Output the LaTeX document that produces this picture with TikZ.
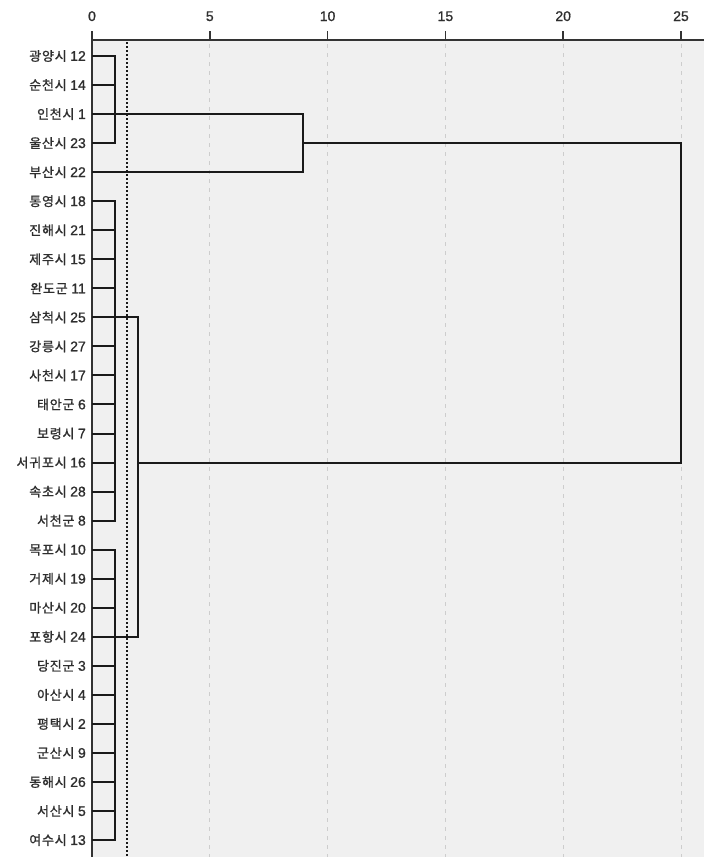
\documentclass[tikz,border=0pt]{standalone}
\usepackage{fontspec}
\setmainfont{Liberation Sans}
\newfontfamily\krfont[FakeBold=1.2,LetterSpace=6]{Noto Sans CJK KR}
\newfontfamily\numfont[FakeBold=1]{Liberation Sans}
\definecolor{panel}{HTML}{F0F0F0}
\definecolor{gridc}{HTML}{CDCDCD}
\definecolor{linec}{HTML}{1A1A1A}
\definecolor{axisc}{HTML}{333333}
\begin{document}
\begin{tikzpicture}[x=1pt,y=-1pt,
  lab/.style={anchor=east,inner sep=0pt,font=\fontsize{13}{14}\selectfont,text=black!82},
  ticklab/.style={anchor=base,inner sep=0pt,font=\numfont\fontsize{14}{15}\selectfont,text=black!82},
  den/.style={draw=linec,line width=2pt,line cap=square,line join=miter},
  gridline/.style={draw=gridc,line width=0.9pt,dash pattern=on 4pt off 5pt},
  cutline/.style={draw=black!90,line width=1.9pt,dash pattern=on 2pt off 2pt},
  axisline/.style={draw=axisc,line width=1.8pt},
  tick/.style={draw=axisc,line width=1.6pt}]
\useasboundingbox (0,0) rectangle (704,857);
\fill[white] (0,0) rectangle (704,857);
\fill[panel] (92,40) rectangle (704,857);
% grid
\foreach \v in {5,10,15,20,25}{
  \pgfmathsetmacro\xx{92+\v*23.56}
  \draw[gridline] (\xx,44) -- (\xx,857);
}
\draw[cutline] (126.7,42) -- (126.7,857);
% axis
\draw[axisline] (92,40) -- (704,40);
\draw[draw=axisc,line width=1.3pt] (92,40) -- (92,857);
\foreach \v in {0,5,10,15,20,25}{
  \pgfmathsetmacro\xx{92+\v*23.56}
  \draw[tick] (\xx,31) -- (\xx,40);
  \node[ticklab] (t\v) at (\xx,21) {\v};
}
% labels and row anchors
\foreach \k/\n [count=\i] in {광양시/12,순천시/14,인천시/1,울산시/23,부산시/22,통영시/18,진해시/21,제주시/15,완도군/11,삼척시/25,강릉시/27,사천시/17,태안군/6,보령시/7,서귀포시/16,속초시/28,서천군/8,목포시/10,거제시/19,마산시/20,포항시/24,당진군/3,아산시/4,평택시/2,군산시/9,동해시/26,서산시/5,여수시/13}{
  \pgfmathsetmacro\yy{56+(\i-1)*29.04}
  \node[lab] (l\i) at (86,\yy) {{\krfont\k}\hspace{3.5pt}{\numfont\fontsize{14}{15}\selectfont\n}};
  \coordinate (r\i) at (92,\yy);
}
\coordinate (ka) at (115,0);
\coordinate (kb) at (138,0);
\coordinate (kc) at (303.3,0);
\coordinate (kd) at (681,0);
% cluster A
\draw[den] (r1) -| (r4 -| ka) -- (r4);
\draw[den] (r2) -- (r2 -| ka);
\draw[den] (r3) -| (r5 -| kc) -- (r5);
\draw[den] (r4 -| kc) -| (r15 -| kd) -- (r15 -| kb);
% cluster B
\draw[den] (r6) -| (r17 -| ka) -- (r17);
\foreach \i in {7,8,9,11,12,13,14,15,16}{\draw[den] (r\i) -- (r\i -| ka);}
% cluster C
\draw[den] (r18) -| (r28 -| ka) -- (r28);
\foreach \i in {19,20,22,23,24,25,26,27}{\draw[den] (r\i) -- (r\i -| ka);}
% join B and C
\draw[den] (r10) -| (r21 -| kb) -- (r21);
\end{tikzpicture}
\end{document}
